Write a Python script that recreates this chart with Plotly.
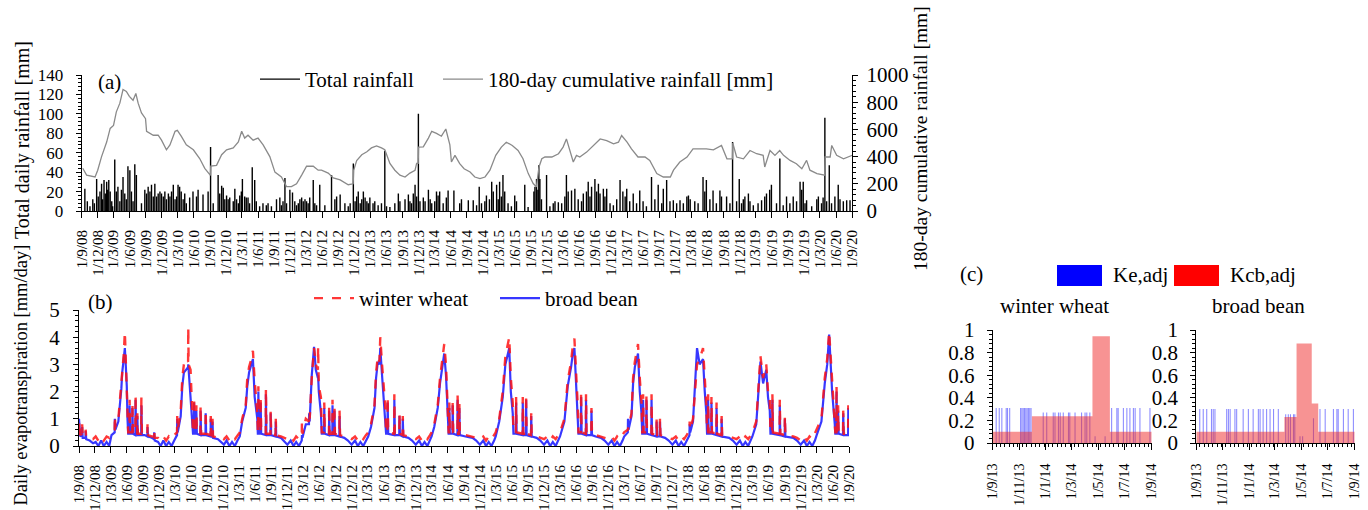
import plotly.graph_objects as go

FONT = "Liberation Serif"
W, H = 1368, 510

# ---------------- Panel (a): daily rainfall events (date, mm) ----------------
rain = [
    ("2008-09-19",23),("2008-10-03",10),("2008-10-18",5),("2008-11-03",12),("2008-11-12",8),("2008-11-25",33),
    ("2008-12-04",15),("2008-12-14",20),("2008-12-23",28),("2008-12-29",12),("2009-01-06",32),("2009-01-13",18),
    ("2009-01-21",30),("2009-01-27",22),("2009-02-02",32),("2009-02-10",20),("2009-02-19",10),("2009-02-24",5),
    ("2009-03-08",53),("2009-03-17",20),("2009-03-26",25),("2009-04-06",10),("2009-04-15",22),("2009-04-24",35),
    ("2009-05-04",18),("2009-05-13",12),("2009-05-22",46),("2009-06-02",42),("2009-06-11",20),("2009-06-20",10),
    ("2009-06-30",48),("2009-07-09",37),("2009-08-07",8),("2009-08-26",22),("2009-09-05",18),("2009-09-14",25),
    ("2009-09-24",20),("2009-10-03",27),("2009-10-13",15),("2009-10-22",28),("2009-11-01",15),("2009-11-10",18),
    ("2009-11-20",20),("2009-11-29",18),("2009-12-09",15),("2009-12-18",20),("2009-12-27",12),("2010-01-07",18),
    ("2010-01-16",15),("2010-01-25",20),("2010-02-04",27),("2010-02-14",12),("2010-02-23",15),("2010-03-03",27),
    ("2010-03-12",25),("2010-03-21",20),("2010-04-01",12),("2010-04-10",18),("2010-04-19",8),("2010-05-08",14),
    ("2010-05-27",20),("2010-06-16",15),("2010-06-25",22),("2010-07-23",17),("2010-08-21",20),("2010-09-04",66),
    ("2010-09-19",8),("2010-10-17",37),("2010-10-26",18),("2010-11-06",26),("2010-11-15",24),("2010-11-24",12),
    ("2010-12-04",16),("2010-12-13",12),("2010-12-22",14),("2011-01-11",10),("2011-01-20",23),("2011-01-30",12),
    ("2011-02-09",8),("2011-02-17",16),("2011-02-26",20),("2011-03-04",33),("2011-03-17",15),("2011-03-26",14),
    ("2011-04-05",14),("2011-04-14",8),("2011-04-29",45),("2011-05-13",32),("2011-05-22",10),("2011-06-10",5),
    ("2011-06-29",8),("2011-07-18",6),("2011-07-28",8),("2011-08-16",5),("2011-09-14",12),("2011-10-03",14),
    ("2011-10-12",6),("2011-10-21",10),("2011-11-01",34),("2011-11-10",8),("2011-11-29",22),("2011-12-14",19),
    ("2011-12-27",10),("2012-01-06",6),("2012-01-16",8),("2012-01-25",12),("2012-02-04",14),("2012-02-13",10),
    ("2012-02-23",12),("2012-03-03",10),("2012-03-12",8),("2012-03-21",14),("2012-04-10",32),("2012-04-19",8),
    ("2012-04-29",6),("2012-05-17",27),("2012-06-15",6),("2012-07-23",37),("2012-08-11",12),("2012-08-21",15),
    ("2012-09-10",17),("2012-10-07",8),("2012-10-26",5),("2012-11-06",8),("2012-11-24",49),("2012-12-04",10),
    ("2012-12-13",15),("2012-12-22",20),("2013-01-02",8),("2013-01-11",12),("2013-01-20",20),("2013-01-30",14),
    ("2013-02-09",10),("2013-02-17",8),("2013-02-26",14),("2013-03-16",8),("2013-03-26",10),("2013-04-14",6),
    ("2013-05-03",8),("2013-05-22",62),("2013-06-01",5),("2013-06-20",4),("2013-07-18",8),("2013-08-07",18),
    ("2013-08-16",10),("2013-09-14",12),("2013-10-03",17),("2013-10-12",10),("2013-10-21",8),("2013-10-31",18),
    ("2013-11-10",27),("2013-11-19",15),("2013-11-29",100),("2013-12-08",10),("2013-12-27",14),("2014-01-06",10),
    ("2014-01-25",22),("2014-02-04",12),("2014-02-13",8),("2014-03-02",10),("2014-03-12",20),("2014-03-21",16),
    ("2014-03-30",20),("2014-04-19",8),("2014-05-07",14),("2014-05-17",21),("2014-06-19",21),("2014-07-22",8),
    ("2014-08-01",12),("2014-09-09",11),("2014-10-07",11),("2014-10-26",6),("2014-11-10",25),("2014-11-23",8),
    ("2014-12-12",10),("2014-12-21",16),("2015-01-07",12),("2015-01-20",30),("2015-01-29",20),("2015-02-17",27),
    ("2015-02-26",12),("2015-03-06",30),("2015-03-16",15),("2015-03-25",37),("2015-04-04",20),("2015-04-23",8),
    ("2015-05-12",5),("2015-05-31",16),("2015-06-10",10),("2015-07-27",27),("2015-08-15",4),("2015-09-17",20),
    ("2015-09-23",25),("2015-10-02",33),("2015-10-10",22),("2015-10-15",47),("2015-10-21",33),("2015-10-30",12),
    ("2015-11-28",37),("2015-12-17",5),("2016-01-05",8),("2016-01-15",10),("2016-02-03",9),("2016-02-22",8),
    ("2016-03-11",15),("2016-03-20",37),("2016-03-30",20),("2016-04-18",21),("2016-05-07",23),("2016-05-26",12),
    ("2016-06-14",10),("2016-06-24",18),("2016-07-12",20),("2016-07-22",30),("2016-08-01",15),("2016-08-10",25),
    ("2016-08-29",33),("2016-09-08",20),("2016-09-18",28),("2016-09-27",18),("2016-10-16",23),("2016-10-25",15),
    ("2016-11-04",23),("2016-11-23",8),("2016-12-12",6),("2016-12-31",12),("2017-01-19",32),("2017-02-04",20),
    ("2017-02-17",15),("2017-02-26",23),("2017-03-15",10),("2017-04-04",18),("2017-04-23",8),("2017-05-11",21),
    ("2017-05-30",10),("2017-06-18",5),("2017-07-17",35),("2017-08-05",12),("2017-08-24",27),("2017-09-13",8),
    ("2017-09-22",23),("2017-10-11",32),("2017-10-30",10),("2017-11-18",11),("2017-12-07",8),("2017-12-26",11),
    ("2018-01-14",8),("2018-02-03",15),("2018-02-12",16),("2018-02-22",12),("2018-03-20",10),("2018-04-08",8),
    ("2018-05-06",35),("2018-05-16",20),("2018-05-25",32),("2018-06-14",12),("2018-07-02",21),("2018-07-21",8),
    ("2018-08-10",21),("2018-08-19",15),("2018-09-17",15),("2018-10-06",8),("2018-10-21",71),("2018-11-13",10),
    ("2018-11-28",33),("2018-12-11",8),("2018-12-21",12),("2018-12-30",15),("2019-01-19",18),("2019-01-28",10),
    ("2019-02-16",6),("2019-03-15",8),("2019-04-04",11),("2019-04-22",15),("2019-05-02",18),("2019-05-20",22),
    ("2019-05-30",27),("2019-06-28",8),("2019-07-17",54),("2019-08-05",6),("2019-08-24",15),("2019-09-12",8),
    ("2019-10-01",15),("2019-10-20",10),("2019-11-09",30),("2019-11-18",22),("2019-11-27",30),("2019-12-07",8),
    ("2019-12-16",11),("2020-01-14",5),("2020-02-12",12),("2020-02-21",15),("2020-03-10",8),("2020-03-19",14),
    ("2020-03-29",96),("2020-04-08",10),("2020-04-23",47),("2020-05-06",8),("2020-05-25",15),("2020-06-13",27),
    ("2020-06-23",12),("2020-07-12",10),("2020-07-31",11),("2020-08-19",11),
]

# 180-day cumulative rainfall (date, mm)
cumulative = [
    ("2008-09-07",314),("2008-09-29",264),("2008-11-16",250),("2008-12-01",300),("2008-12-23",400),("2009-01-21",507),
    ("2009-02-10",607),("2009-03-01",629),("2009-03-17",729),("2009-04-06",793),("2009-04-24",893),("2009-05-13",879),
    ("2009-05-30",843),("2009-06-20",814),("2009-07-06",864),("2009-07-19",793),("2009-08-07",721),("2009-08-30",679),
    ("2009-09-05",586),("2009-10-13",557),("2009-11-10",557),("2009-11-29",521),("2009-12-27",450),("2010-01-16",486),
    ("2010-02-14",586),("2010-02-27",593),("2010-03-21",550),("2010-04-19",486),("2010-05-29",450),("2010-07-04",386),
    ("2010-08-02",314),("2010-09-03",262),("2010-09-05",330),("2010-10-08",336),("2010-11-06",414),("2010-12-04",450),
    ("2011-01-11",464),("2011-02-09",507),("2011-02-28",586),("2011-03-17",536),("2011-04-05",557),("2011-05-04",521),
    ("2011-06-01",536),("2011-06-30",486),("2011-08-07",400),("2011-09-05",286),("2011-10-12",250),("2011-11-10",179),
    ("2011-12-08",179),("2012-01-06",200),("2012-02-04",264),("2012-03-03",329),("2012-04-10",329),("2012-05-08",300),
    ("2012-05-27",300),("2012-07-04",279),("2012-08-02",243),("2012-09-10",229),("2012-10-26",193),("2012-11-23",200),
    ("2012-11-26",300),("2012-12-13",371),("2013-01-11",414),("2013-02-09",436),("2013-03-07",464),("2013-04-05",479),
    ("2013-05-03",464),("2013-05-22",450),("2013-06-20",350),("2013-07-18",300),("2013-08-16",264),("2013-09-14",250),
    ("2013-10-12",279),("2013-11-10",300),("2013-11-19",350),("2013-11-28",350),("2013-11-30",470),("2013-12-27",471),
    ("2014-01-25",536),("2014-02-13",586),("2014-03-12",571),("2014-04-09",550),("2014-05-04",603),("2014-05-27",486),
    ("2014-06-05",360),("2014-06-25",409),("2014-07-22",348),("2014-08-16",311),("2014-09-19",287),("2014-10-16",250),
    ("2014-11-14",238),("2014-12-13",250),("2015-01-10",300),("2015-02-12",409),("2015-03-16",470),("2015-04-13",506),
    ("2015-05-17",482),("2015-06-19",445),("2015-07-17",384),("2015-08-16",275),("2015-09-13",202),("2015-10-01",178),
    ("2015-10-16",324),("2015-11-01",384),("2015-11-19",397),("2015-12-28",397),("2016-02-04",421),("2016-03-01",470),
    ("2016-03-20",530),("2016-04-10",445),("2016-04-28",360),("2016-05-16",409),("2016-06-04",397),("2016-07-13",433),
    ("2016-08-19",482),("2016-09-28",530),("2016-11-04",518),("2016-12-13",494),("2017-01-10",506),("2017-01-28",555),
    ("2017-02-28",506),("2017-03-25",457),("2017-05-01",397),("2017-06-10",397),("2017-07-07",372),("2017-08-16",275),
    ("2017-09-22",250),("2017-11-01",250),("2017-11-19",300),("2017-12-25",360),("2018-02-04",397),("2018-03-10",457),
    ("2018-04-19",457),("2018-05-25",457),("2018-07-04",450),("2018-08-19",482),("2018-09-19",384),("2018-10-20",384),
    ("2018-10-22",500),("2018-11-13",397),("2018-12-22",384),("2019-01-28",445),("2019-03-07",421),("2019-04-13",409),
    ("2019-04-22",324),("2019-05-22",445),("2019-06-19",409),("2019-07-16",445),("2019-08-07",409),("2019-09-13",372),
    ("2019-10-19",348),("2019-11-19",311),("2019-12-16",372),("2020-01-04",300),("2020-02-13",275),("2020-03-28",263),
    ("2020-03-30",397),("2020-04-28",397),("2020-05-07",482),("2020-06-04",409),("2020-07-13",384),("2020-08-22",409),
    ("2020-09-01",410),
]

# ---------------- Panel (b): daily ET (date, winter wheat, broad bean) ----------------
et = [
    ("2008-09-01",0.5,1.0),("2008-09-03",0.9,0.6),("2008-09-08",0.4,0.35),("2008-09-18",0.45,0.4),("2008-09-19",0.8,0.7),
    ("2008-09-22",0.4,0.3),("2008-10-08",0.35,0.3),("2008-10-09",0.6,0.55),("2008-10-12",0.3,0.25),("2008-11-01",0.3,0.2),
    ("2008-11-20",0.25,0.1),("2008-12-05",0.35,0.15),("2008-12-20",0.2,0.0),("2009-01-05",0.35,0.2),("2009-01-20",0.2,0.0),
    ("2009-02-05",0.35,0.15),("2009-02-20",0.3,0.0),("2009-03-05",0.5,0.4),("2009-03-23",0.6,0.5),("2009-03-24",1.1,1.0),
    ("2009-03-27",0.7,0.6),("2009-04-13",1.0,0.9),("2009-04-22",1.7,1.5),("2009-04-30",2.3,2.1),("2009-05-05",3.0,2.7),
    ("2009-05-14",3.4,3.2),("2009-05-20",4.2,3.6),("2009-05-25",3.4,3.0),("2009-05-31",2.0,2.2),("2009-06-04",1.2,1.0),
    ("2009-06-08",0.5,0.45),("2009-06-15",0.5,0.45),("2009-06-16",1.7,1.5),("2009-06-19",0.5,0.45),("2009-07-01",0.5,0.45),
    ("2009-07-02",1.6,1.4),("2009-07-05",0.5,0.45),("2009-07-19",0.45,0.4),("2009-07-20",1.9,1.7),("2009-07-23",0.5,0.45),
    ("2009-07-29",0.45,0.4),("2009-07-30",1.2,1.1),("2009-08-02",0.45,0.4),("2009-08-21",0.45,0.4),("2009-08-22",1.8,1.5),
    ("2009-08-25",0.45,0.4),
    ("2009-09-10",0.45,0.4),("2009-09-25",0.4,0.35),("2009-09-26",0.8,0.7),("2009-09-29",0.4,0.35),("2009-10-20",0.35,0.3),
    ("2009-11-02",0.35,0.25),("2009-11-03",0.6,0.5),("2009-11-06",0.3,0.2),("2009-11-25",0.3,0.15),("2009-12-10",0.2,0.0),
    ("2009-12-25",0.35,0.2),("2010-01-10",0.2,0.0),("2010-01-25",0.35,0.15),("2010-02-10",0.25,0.0),("2010-02-25",0.4,0.2),
    ("2010-03-05",0.45,0.3),("2010-03-13",0.5,0.4),("2010-03-14",1.1,1.0),("2010-03-17",0.6,0.5),("2010-04-03",1.3,1.1),
    ("2010-04-12",2.5,2.2),("2010-04-21",3.0,2.7),("2010-05-01",3.2,2.8),("2010-05-15",3.1,2.9),("2010-05-16",4.35,3.0),
    ("2010-05-18",3.0,2.8),("2010-05-29",2.8,2.0),("2010-06-08",1.2,1.0),("2010-06-12",0.5,0.45),("2010-06-17",0.5,0.45),
    ("2010-06-18",1.8,1.6),("2010-06-21",0.5,0.45),("2010-06-30",0.5,0.45),("2010-07-01",1.5,1.3),("2010-07-04",0.5,0.45),
    ("2010-07-24",0.45,0.4),("2010-07-25",1.5,1.3),("2010-07-28",0.45,0.4),("2010-08-22",0.45,0.4),("2010-08-23",1.3,1.2),
    ("2010-08-26",0.45,0.4),
    ("2010-09-20",0.4,0.35),("2010-09-21",1.1,1.0),("2010-09-24",0.4,0.35),("2010-09-30",0.4,0.35),("2010-10-01",1.0,0.9),
    ("2010-10-04",0.35,0.3),("2010-11-01",0.3,0.25),("2010-11-20",0.35,0.15),("2010-12-05",0.25,0.05),("2010-12-20",0.35,0.2),
    ("2011-01-05",0.2,0.0),("2011-01-20",0.35,0.15),("2011-02-05",0.25,0.0),("2011-02-20",0.4,0.2),("2011-03-05",0.5,0.35),
    ("2011-03-19",1.0,0.9),("2011-04-08",1.5,1.4),("2011-04-17",2.5,2.2),("2011-04-27",2.9,2.7),("2011-05-10",3.2,3.0),
    ("2011-05-19",3.5,3.2),("2011-05-29",2.4,1.8),("2011-06-13",1.2,1.0),("2011-06-16",0.5,0.45),("2011-06-18",0.5,0.45),
    ("2011-06-19",2.2,2.0),("2011-06-22",0.5,0.45),("2011-07-01",0.5,0.45),("2011-07-02",1.8,1.6),("2011-07-05",0.5,0.45),
    ("2011-07-31",0.45,0.4),("2011-08-01",2.1,1.9),("2011-08-04",0.45,0.4),("2011-08-27",0.45,0.4),("2011-08-28",1.3,1.2),
    ("2011-08-31",0.45,0.4),
    ("2011-09-25",0.4,0.35),("2011-09-26",1.0,0.9),("2011-09-29",0.4,0.35),("2011-10-25",0.35,0.3),("2011-11-15",0.3,0.15),
    ("2011-12-01",0.25,0.05),("2011-12-20",0.35,0.2),("2012-01-05",0.2,0.0),("2012-01-20",0.35,0.15),("2012-02-05",0.25,0.0),
    ("2012-02-21",0.4,0.2),("2012-02-22",0.9,0.4),("2012-02-25",0.45,0.3),("2012-03-15",1.0,0.8),("2012-04-02",0.9,0.8),
    ("2012-04-03",1.2,1.2),("2012-04-06",1.0,0.9),("2012-04-18",2.5,2.6),("2012-04-26",3.3,3.2),("2012-05-01",3.6,3.65),
    ("2012-05-11",3.0,2.8),("2012-05-23",2.8,2.5),("2012-05-24",3.65,2.6),("2012-05-28",2.2,2.0),("2012-06-09",1.8,1.2),
    ("2012-06-14",0.5,0.45),("2012-06-27",0.5,0.45),("2012-06-28",1.6,1.4),("2012-07-01",0.5,0.45),("2012-07-25",0.45,0.4),
    ("2012-07-26",1.5,1.3),("2012-07-29",0.45,0.4),("2012-08-13",0.45,0.4),("2012-08-14",1.7,1.5),("2012-08-17",0.45,0.4),
    ("2012-08-24",0.45,0.4),("2012-08-25",1.5,1.3),("2012-08-28",0.45,0.4),
    ("2012-09-22",0.4,0.35),("2012-09-23",1.3,1.1),("2012-09-26",0.4,0.35),("2012-10-20",0.35,0.3),("2012-11-10",0.3,0.2),
    ("2012-12-01",0.25,0.05),("2012-12-20",0.35,0.2),("2013-01-05",0.2,0.0),("2013-01-20",0.35,0.15),("2013-02-05",0.25,0.0),
    ("2013-02-20",0.4,0.2),("2013-03-05",0.5,0.35),("2013-03-21",0.8,0.7),("2013-04-10",1.5,1.4),("2013-04-19",2.7,2.5),
    ("2013-04-29",3.3,3.1),("2013-05-08",3.1,3.0),("2013-05-13",4.0,3.6),("2013-05-23",3.0,2.6),("2013-05-31",2.3,1.8),
    ("2013-06-11",1.4,1.0),("2013-06-15",0.5,0.45),("2013-06-23",0.5,0.45),("2013-06-24",1.8,1.6),("2013-06-27",0.5,0.45),
    ("2013-07-31",0.45,0.4),("2013-08-01",1.9,1.7),("2013-08-04",0.45,0.4),("2013-08-29",0.45,0.4),("2013-08-30",1.2,1.1),
    ("2013-09-02",0.45,0.4),
    ("2013-09-17",0.4,0.35),("2013-09-18",1.1,1.0),("2013-09-21",0.4,0.35),("2013-10-20",0.35,0.3),("2013-11-10",0.3,0.2),
    ("2013-12-01",0.25,0.05),("2013-12-20",0.35,0.2),("2014-01-05",0.2,0.0),("2014-01-20",0.35,0.15),("2014-02-05",0.25,0.0),
    ("2014-02-20",0.4,0.2),("2014-03-01",0.5,0.35),("2014-03-16",0.8,0.7),("2014-04-05",1.5,1.4),("2014-04-18",2.5,2.3),
    ("2014-05-03",3.4,3.1),("2014-05-12",3.75,3.4),("2014-05-22",3.0,2.6),("2014-05-29",1.7,1.5),("2014-06-06",0.5,0.45),
    ("2014-06-09",0.5,0.45),("2014-06-10",1.6,1.4),("2014-06-13",0.5,0.45),("2014-06-28",0.5,0.45),("2014-06-29",1.7,1.5),
    ("2014-07-02",0.5,0.45),("2014-07-26",0.45,0.4),("2014-07-27",1.9,1.7),("2014-07-30",0.45,0.4),("2014-08-05",0.45,0.4),
    ("2014-08-06",1.6,1.4),("2014-08-09",0.45,0.4),
    ("2014-09-10",0.4,0.35),("2014-10-20",0.35,0.3),("2014-11-10",0.3,0.2),("2014-12-01",0.25,0.05),("2014-12-20",0.35,0.2),
    ("2015-01-05",0.2,0.0),("2015-01-20",0.35,0.15),("2015-02-05",0.25,0.0),("2015-02-20",0.4,0.2),("2015-03-01",0.5,0.35),
    ("2015-03-21",1.0,0.9),("2015-04-10",2.0,1.8),("2015-04-25",3.3,3.0),("2015-05-08",3.8,3.3),("2015-05-17",4.0,3.6),
    ("2015-05-26",2.5,2.0),("2015-06-06",1.6,1.2),("2015-06-10",0.5,0.45),("2015-06-24",0.5,0.45),("2015-06-25",1.8,1.6),
    ("2015-06-28",0.5,0.45),("2015-08-01",0.45,0.4),("2015-08-02",1.8,1.6),("2015-08-05",0.45,0.4),("2015-08-20",0.45,0.4),
    ("2015-08-21",1.9,1.7),("2015-08-24",0.45,0.4),("2015-09-18",0.4,0.35),("2015-09-19",1.2,1.1),("2015-09-22",0.4,0.35),
    ("2015-10-20",0.35,0.3),("2015-11-10",0.3,0.2),("2015-12-01",0.25,0.05),("2015-12-20",0.35,0.2),("2016-01-05",0.2,0.0),
    ("2016-01-20",0.35,0.15),("2016-02-05",0.25,0.0),("2016-02-20",0.4,0.2),("2016-03-01",0.5,0.35),("2016-03-26",1.0,0.9),
    ("2016-04-14",2.4,2.2),("2016-05-03",3.1,2.9),("2016-05-13",3.7,3.4),("2016-05-22",3.95,3.6),("2016-06-01",2.8,2.3),
    ("2016-06-10",1.5,1.2),("2016-06-14",0.5,0.45),("2016-06-28",0.5,0.45),("2016-06-29",2.0,1.8),("2016-07-02",0.5,0.45),
    ("2016-07-26",0.45,0.4),("2016-07-27",1.9,1.7),("2016-07-30",0.45,0.4),("2016-08-26",0.45,0.4),("2016-08-27",1.4,1.3),
    ("2016-08-30",0.45,0.4),("2016-09-20",0.4,0.35),
    ("2016-10-20",0.35,0.3),("2016-11-10",0.3,0.2),("2016-12-01",0.25,0.05),("2016-12-20",0.35,0.2),("2017-01-05",0.2,0.0),
    ("2017-01-20",0.35,0.15),("2017-02-05",0.25,0.0),("2017-02-20",0.4,0.2),("2017-03-01",0.5,0.35),("2017-03-22",0.6,0.5),
    ("2017-03-23",0.7,1.0),("2017-03-26",0.7,0.6),("2017-04-12",1.2,1.1),("2017-04-21",2.5,2.3),("2017-05-01",3.1,2.9),
    ("2017-05-10",3.5,3.2),("2017-05-19",3.75,3.4),("2017-05-29",2.5,2.0),("2017-06-08",1.6,1.2),("2017-06-12",0.5,0.45),
    ("2017-06-16",0.5,0.45),("2017-06-17",1.9,1.7),("2017-06-20",0.5,0.45),("2017-07-05",0.5,0.45),("2017-07-06",1.9,1.7),
    ("2017-07-09",0.5,0.45),("2017-08-03",0.45,0.4),("2017-08-04",1.9,1.7),("2017-08-07",0.45,0.4),("2017-09-01",0.4,0.35),
    ("2017-09-02",1.0,0.9),("2017-09-05",0.4,0.35),("2017-09-20",0.4,0.35),("2017-09-21",1.0,0.9),("2017-09-24",0.4,0.35),
    ("2017-10-20",0.35,0.3),("2017-11-10",0.3,0.2),("2017-12-01",0.25,0.05),("2017-12-20",0.35,0.2),("2018-01-05",0.2,0.0),
    ("2018-01-20",0.35,0.15),("2018-02-05",0.25,0.0),("2018-02-20",0.4,0.2),("2018-03-01",0.5,0.35),("2018-03-08",0.5,0.4),
    ("2018-03-09",0.9,0.8),("2018-03-12",0.6,0.5),("2018-03-28",1.0,0.9),("2018-04-13",2.5,2.5),("2018-04-20",3.0,3.6),
    ("2018-05-05",3.2,3.0),("2018-05-24",3.6,3.2),("2018-06-03",2.5,2.0),("2018-06-12",1.5,1.2),("2018-06-16",0.5,0.45),
    ("2018-06-21",0.5,0.45),("2018-06-22",1.9,1.7),("2018-06-25",0.5,0.45),("2018-07-10",0.5,0.45),("2018-07-11",1.8,1.6),
    ("2018-07-14",0.5,0.45),("2018-08-08",0.45,0.4),("2018-08-09",1.6,1.4),("2018-08-12",0.45,0.4),("2018-09-06",0.4,0.35),
    ("2018-09-07",1.1,1.0),("2018-09-10",0.4,0.35),
    ("2018-10-20",0.35,0.3),("2018-11-10",0.3,0.2),("2018-12-01",0.25,0.05),("2018-12-20",0.35,0.2),("2019-01-05",0.2,0.0),
    ("2019-01-20",0.35,0.15),("2019-02-05",0.25,0.0),("2019-02-20",0.4,0.2),("2019-03-01",0.5,0.35),("2019-03-23",0.9,0.8),
    ("2019-04-16",3.3,3.1),("2019-05-01",2.5,2.3),("2019-05-19",3.0,2.8),("2019-05-29",2.0,1.8),("2019-06-08",1.7,1.3),
    ("2019-06-12",0.5,0.45),("2019-06-22",0.5,0.45),("2019-06-23",1.9,1.7),("2019-06-26",0.5,0.45),("2019-08-03",0.45,0.4),
    ("2019-08-04",1.7,1.5),("2019-08-07",0.45,0.4),("2019-09-01",0.4,0.35),("2019-09-02",1.1,1.0),("2019-09-05",0.4,0.35),
    ("2019-10-20",0.35,0.3),("2019-11-10",0.3,0.2),("2019-12-01",0.2,0.05),("2019-12-20",0.35,0.2),("2020-01-05",0.2,0.0),
    ("2020-01-20",0.35,0.15),("2020-02-05",0.25,0.0),("2020-02-20",0.45,0.2),("2020-03-01",0.6,0.4),("2020-03-28",1.0,0.9),
    ("2020-04-16",2.5,2.3),("2020-04-30",3.2,3.0),("2020-05-11",4.2,4.1),("2020-05-18",3.5,3.0),("2020-05-28",2.5,2.0),
    ("2020-06-12",1.0,0.8),("2020-06-15",0.5,0.45),("2020-06-21",0.5,0.45),("2020-06-22",2.2,2.0),("2020-06-25",0.5,0.45),
    ("2020-06-30",0.5,0.45),("2020-07-01",1.5,1.3),("2020-07-04",0.5,0.45),("2020-07-29",0.45,0.4),("2020-07-30",1.3,1.2),
    ("2020-08-02",0.45,0.4),("2020-08-27",0.45,0.4),("2020-08-28",1.5,1.4),("2020-08-31",0.45,0.4),
]

# ---------------- Panel (c): Ke,adj and Kcb,adj, Sep 2013 - Sep 2014 ----------------
ww_kcb_dates = ["2013-09-01", "2013-11-30", "2014-04-18", "2014-05-28", "2014-09-01"]
ww_kcb_vals = [0.10, 0.237, 0.944, 0.10, 0.10]
ww_ke = [
    ("2013-09-09",0.31),("2013-09-16",0.31),("2013-09-22",0.31),("2013-10-02",0.31),("2013-10-05",0.31),("2013-10-10",0.31),
    ("2013-11-04",0.31),("2013-11-07",0.31),("2013-11-10",0.31),("2013-11-13",0.31),("2013-11-16",0.31),("2013-11-19",0.31),
    ("2013-11-22",0.31),("2013-11-25",0.31),("2013-11-28",0.31),
    ("2013-12-26",0.27),("2014-01-03",0.27),("2014-01-18",0.27),("2014-01-22",0.27),("2014-01-30",0.27),("2014-02-03",0.27),
    ("2014-02-10",0.27),("2014-02-22",0.27),("2014-02-25",0.27),("2014-03-09",0.27),("2014-03-24",0.27),("2014-04-01",0.27),
    ("2014-04-05",0.27),("2014-04-12",0.27),
    ("2014-04-24",0.06),("2014-05-17",0.06),
    ("2014-06-01",0.31),("2014-06-13",0.31),("2014-06-16",0.31),("2014-06-28",0.31),("2014-07-06",0.31),("2014-07-13",0.31),
    ("2014-07-21",0.31),("2014-07-25",0.31),("2014-08-05",0.31),("2014-08-28",0.31),
]
bb_kcb_dates = ["2013-09-01", "2014-03-23", "2014-04-20", "2014-05-25", "2014-06-09", "2014-09-01"]
bb_kcb_vals = [0.10, 0.23, 0.88, 0.35, 0.10, 0.10]
bb_ke = [
    ("2013-09-09",0.30),("2013-09-17",0.30),("2013-09-25",0.30),("2013-10-06",0.30),("2013-10-10",0.30),("2013-10-14",0.30),
    ("2013-11-10",0.30),("2013-11-14",0.30),("2013-11-18",0.30),("2013-11-29",0.30),("2013-12-03",0.30),("2013-12-18",0.30),
    ("2013-12-30",0.30),("2014-01-10",0.30),("2014-01-22",0.30),("2014-01-26",0.30),("2014-02-02",0.30),("2014-02-10",0.30),
    ("2014-02-18",0.30),("2014-02-26",0.30),("2014-03-09",0.30),
    ("2014-03-26",0.255),("2014-04-01",0.255),("2014-04-06",0.255),("2014-04-13",0.255),("2014-04-16",0.255),
    ("2014-04-28",0.06),("2014-05-04",0.06),("2014-05-29",0.22),
    ("2014-06-13",0.30),("2014-06-25",0.30),("2014-07-14",0.30),("2014-07-22",0.30),("2014-07-25",0.30),("2014-08-06",0.30),
    ("2014-08-17",0.30),("2014-08-29",0.30),
]

# ---------------- helpers ----------------
def fx(p):
    return p / W

def fy(p):
    return 1 - p / H

DAY_MS = 86400000
FS = 21
txt = dict(family=FONT, color="black")

fig = go.Figure()

# (a) rainfall stems
rx, ry = [], []
for d, v in rain:
    rx += [d, d, None]
    ry += [0, v, None]
fig.add_trace(go.Scatter(x=rx, y=ry, mode="lines", line=dict(color="black", width=1.4),
                         name="Total rainfall", xaxis="x", yaxis="y", legend="legend"))
fig.add_trace(go.Scatter(x=[c[0] for c in cumulative], y=[c[1] for c in cumulative], mode="lines",
                         line=dict(color="#8a8a8a", width=1.3),
                         name="180-day cumulative rainfall [mm]", xaxis="x", yaxis="y2", legend="legend3"))

# (b) ET
et_sorted = sorted(et)
et_dates = [r[0] for r in et_sorted]
et_wheat = [r[1] for r in et_sorted]
et_bean = [r[2] for r in et_sorted]
fig.add_trace(go.Scatter(x=et_dates, y=et_bean, mode="lines", line=dict(color="rgba(20,20,255,0.85)", width=2.2),
                         name="broad bean", xaxis="x2", yaxis="y3", legend="legend4"))
fig.add_trace(go.Scatter(x=et_dates, y=et_wheat, mode="lines",
                         line=dict(color="rgba(255,20,20,0.85)", width=2.4, dash="dash"),
                         name="winter wheat", xaxis="x2", yaxis="y3", legend="legend2"))

# (c) winter wheat and broad bean
for xa, ya, ke, kd, kv in (("x3", "y4", ww_ke, ww_kcb_dates, ww_kcb_vals),
                            ("x4", "y5", bb_ke, bb_kcb_dates, bb_kcb_vals)):
    fig.add_trace(go.Bar(x=[k[0] for k in ke], y=[k[1] for k in ke], width=2.5 * DAY_MS,
                         marker=dict(color="rgba(0,0,255,0.45)", line=dict(width=0)),
                         xaxis=xa, yaxis=ya, showlegend=False))
    fig.add_trace(go.Scatter(x=kd, y=kv, mode="lines", line=dict(width=0, shape="hv"),
                             fill="tozeroy", fillcolor="rgba(240,40,40,0.5)",
                             xaxis=xa, yaxis=ya, showlegend=False))

base_axis = dict(showline=True, linecolor="black", linewidth=1, ticks="outside", ticklen=5,
                 tickcolor="black", showgrid=False, zeroline=False, automargin=False,
                 tickfont=dict(family=FONT, size=FS, color="black"))

date_axis = dict(base_axis, type="date", dtick="M3", tick0="2008-09-01", tickformat="%-d/%-m/%y",
                 tickangle=-90, ticklen=6, tickfont=dict(family=FONT, size=15, color="black"),
                 range=["2008-09-01", "2020-09-01"], ticklabelstandoff=6)

c_xaxis = dict(base_axis, type="date", dtick="M2", tick0="2013-09-01", tickformat="%-d/%-m/%y",
               tickangle=-90, ticklen=6, tickfont=dict(family=FONT, size=14, color="black"),
               range=["2013-09-01", "2014-09-01"], ticklabelstandoff=8,
               minor=dict(ticks="outside", ticklen=3, tickcolor="black", dtick=10 * DAY_MS))

c_yaxis = dict(base_axis, range=[0, 1], dtick=0.2, ticklabelstandoff=8,
               minor=dict(ticks="outside", ticklen=3, tickcolor="black", dtick=0.04))

def leg(xp, yp):
    return dict(x=fx(xp), y=fy(yp), xanchor="left", yanchor="top", orientation="h",
                font=dict(family=FONT, size=FS, color="black"), bgcolor="rgba(0,0,0,0)",
                itemwidth=40)

fig.update_layout(
    template="none",
    width=W, height=H,
    margin=dict(l=0, r=0, t=0, b=0, pad=0, autoexpand=False),
    paper_bgcolor="white", plot_bgcolor="white",
    barmode="overlay",
    showlegend=True,
    hovermode=False,
    xaxis=dict(date_axis, domain=[fx(81.7), fx(852.3)], anchor="y"),
    yaxis=dict(base_axis, domain=[fy(211), fy(75)], anchor="x", range=[0, 140], dtick=20,
               ticklabelstandoff=9, tickfont=dict(family=FONT, size=17, color="black"),
               minor=dict(ticks="outside", ticklen=3, tickcolor="black", dtick=4)),
    yaxis2=dict(base_axis, overlaying="y", side="right", anchor="x", range=[0, 1000], dtick=200,
                ticklabelstandoff=4,
                minor=dict(ticks="outside", ticklen=3, tickcolor="black", dtick=40)),
    xaxis2=dict(date_axis, domain=[fx(79), fx(849)], anchor="y3"),
    yaxis3=dict(base_axis, domain=[fy(446), fy(310)], anchor="x2", range=[0, 5], dtick=1,
                ticklabelstandoff=9,
                minor=dict(ticks="outside", ticklen=3, tickcolor="black", dtick=0.2)),
    xaxis3=dict(c_xaxis, domain=[fx(992.7), fx(1151.7)], anchor="y4"),
    yaxis4=dict(c_yaxis, domain=[fy(443), fy(330)], anchor="x3"),
    xaxis4=dict(c_xaxis, domain=[fx(1196.3), fx(1354.7)], anchor="y5"),
    yaxis5=dict(c_yaxis, domain=[fy(443), fy(330)], anchor="x4"),
    legend=leg(255, 59),
    legend3=leg(438, 59),
    legend2=leg(309, 278),
    legend4=leg(495, 278),
)

annotations = [
    dict(text="(a)", x=fx(96), y=fy(82), xanchor="left", yanchor="middle", font=dict(txt, size=FS)),
    dict(text="(b)", x=fx(86), y=fy(302), xanchor="left", yanchor="middle", font=dict(txt, size=FS)),
    dict(text="(c)", x=fx(958), y=fy(274), xanchor="left", yanchor="middle", font=dict(txt, size=FS)),
    dict(text="Total daily rainfall [mm]", x=fx(22), y=fy(140), textangle=-90,
         xanchor="center", yanchor="middle", font=dict(txt, size=20)),
    dict(text="180-day cumulative rainfall [mm]", x=fx(921), y=fy(139), textangle=-90,
         xanchor="center", yanchor="middle", font=dict(txt, size=19.5)),
    dict(text="Daily evapotranspiration [mm/day]", x=fx(20), y=fy(243), textangle=-90,
         xanchor="center", yanchor="top", font=dict(txt, size=18.5)),
    dict(text="winter wheat", x=fx(1054), y=fy(306), xanchor="center", yanchor="middle", font=dict(txt, size=FS)),
    dict(text="broad bean", x=fx(1258), y=fy(306), xanchor="center", yanchor="middle", font=dict(txt, size=FS)),
    dict(text="Ke,adj", x=fx(1111), y=fy(275), xanchor="left", yanchor="middle", font=dict(txt, size=FS)),
    dict(text="Kcb,adj", x=fx(1228), y=fy(275), xanchor="left", yanchor="middle", font=dict(txt, size=FS)),
]
for a in annotations:
    a.update(xref="paper", yref="paper", showarrow=False)
fig.update_layout(annotations=annotations)

fig.update_layout(shapes=[
    dict(type="rect", xref="paper", yref="paper", x0=fx(1057), x1=fx(1102), y0=fy(286), y1=fy(265),
         fillcolor="#0000ff", line=dict(width=0)),
    dict(type="rect", xref="paper", yref="paper", x0=fx(1174), x1=fx(1219), y0=fy(286), y1=fy(265),
         fillcolor="#ff0000", line=dict(width=0)),
])

fig.write_html("out.html", config={"displayModeBar": False},
               post_script="document.body.style.margin='0';document.body.style.overflow='hidden';")
